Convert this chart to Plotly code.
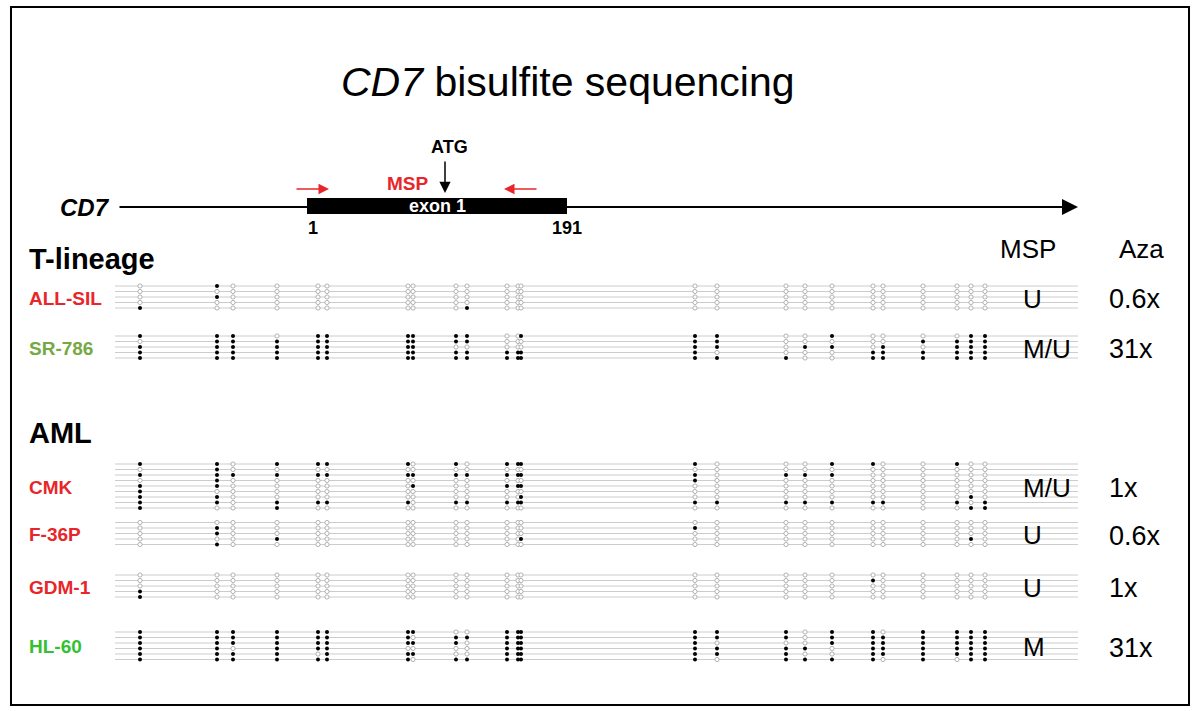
import plotly.graph_objects as go

# CpG sites along the amplicon (pixel-scaled position on the gene line)
cpg_pos = [140, 217, 233, 277, 318, 327, 408, 413, 456, 467, 507, 518, 521,
           695, 717, 786, 805, 832, 873, 883, 923, 957, 971, 985]

samples = ['ALL-SIL', 'SR-786', 'CMK', 'F-36P', 'GDM-1', 'HL-60']
sample_colors = ['#e8262a', '#76a844', '#e8262a', '#e8262a', '#e8262a', '#33c133']
msp_result = ['U', 'M/U', 'M/U', 'U', 'U', 'M']
aza_fold = ['0.6x', '31x', '1x', '0.6x', '1x', '31x']

# 1 = methylated (filled), 0 = unmethylated (open); one string per clone
clones = {
    'ALL-SIL': [
        '0100000000000' + '00000000000',
        '0000000000000' + '00000000000',
        '0100000000000' + '00000000000',
        '0000000000000' + '00000000000',
        '1000000001000' + '00000000000',
    ],
    'SR-786': [
        '1110111111001' + '11001000011',
        '0111111111000' + '11000001111',
        '1111111100000' + '11011010111',
        '1111111111111' + '10000111111',
        '1111111111111' + '11100111111',
    ],
    'CMK': [
        '1101111010111' + '10001100100',
        '0100000000000' + '00000000000',
        '1111111111111' + '10111000000',
        '0100000000000' + '10000000000',
        '1100000100111' + '00000000000',
        '1000000000000' + '00000000000',
        '1100000000001' + '00000000010',
        '1101111011111' + '11111110101',
        '1001000000000' + '00000000011',
    ],
    'F-36P': [
        '0000000000000' + '00000000000',
        '0100000000000' + '10000000000',
        '0100000000000' + '00000000000',
        '0001000000001' + '00000000010',
        '0100000000000' + '00000000000',
    ],
    'GDM-1': [
        '0000000000000' + '00000000000',
        '0000000000000' + '00000100000',
        '0000000000000' + '00000000000',
        '1000000000000' + '00000000000',
        '1000000000000' + '00000000000',
    ],
    'HL-60': [
        '1111111100111' + '11101101111',
        '1111111011111' + '11101111111',
        '1111111110111' + '10001111111',
        '1101110000111' + '11110111111',
        '1111011100111' + '11100111111',
        '1111111011111' + '10111101011',
    ],
}

# layout (pixel coordinates, y grows downward)
W, H = 1200, 711
group_top = {'ALL-SIL': 286, 'SR-786': 336, 'CMK': 464, 'F-36P': 522.5,
             'GDM-1': 575, 'HL-60': 632}
row_step = 5.5
line_x0, line_x1 = 115, 1078
FONT = 'Liberation Sans, Arial, sans-serif'

fig = go.Figure()
shapes = []
annotations = []

for i, name in enumerate(samples):
    rows = clones[name]
    top = group_top[name]
    fx, fy, ox, oy = [], [], [], []
    for r, pattern in enumerate(rows):
        y = top + r * row_step
        shapes.append(dict(type='line', x0=line_x0, x1=line_x1, y0=y, y1=y,
                           xref='x', yref='y', layer='below',
                           line=dict(color='#cccccc', width=1)))
        for j, ch in enumerate(pattern):
            if ch == '1':
                fx.append(cpg_pos[j]); fy.append(y)
            else:
                ox.append(cpg_pos[j]); oy.append(y)
    fig.add_trace(go.Scatter(x=ox, y=oy, mode='markers', hoverinfo='skip',
                             marker=dict(symbol='circle', size=4.2, color='white',
                                         line=dict(color='#a0a0a0', width=0.8))))
    fig.add_trace(go.Scatter(x=fx, y=fy, mode='markers', hoverinfo='skip',
                             marker=dict(symbol='circle', size=4, color='black',
                                         line=dict(color='black', width=0))))
    mid = top + (len(rows) - 1) * row_step / 2
    annotations.append(dict(x=27, y=mid + 1, text=f'<b>{name}</b>', xanchor='left',
                            showarrow=False, font=dict(family=FONT, size=19,
                                                       color=sample_colors[i])))
    annotations.append(dict(x=1021, y=mid + 1.5, text=msp_result[i], xanchor='left',
                            showarrow=False, font=dict(family=FONT, size=26, color='black')))
    annotations.append(dict(x=1107, y=mid + 2, text=aza_fold[i], xanchor='left',
                            showarrow=False, font=dict(family=FONT, size=27, color='black')))

# border
shapes.append(dict(type='rect', x0=11, x1=1189, y0=7, y1=705, xref='x', yref='y',
                   line=dict(color='black', width=2)))
# exon box
shapes.append(dict(type='rect', x0=307, x1=567, y0=198, y1=214, xref='x', yref='y',
                   fillcolor='black', line=dict(color='black', width=0)))

# gene line with arrow
annotations.append(dict(x=1078, y=207, ax=118, ay=207, xref='x', yref='y',
                        axref='x', ayref='y', text='', showarrow=True,
                        arrowhead=2, arrowsize=1.6, arrowwidth=2, arrowcolor='black'))
# ATG arrow
annotations.append(dict(x=445, y=193, ax=445, ay=160, xref='x', yref='y',
                        axref='x', ayref='y', text='', showarrow=True,
                        arrowhead=2, arrowsize=1.5, arrowwidth=1.5, arrowcolor='black'))
# MSP primers
annotations.append(dict(x=329, y=189, ax=295, ay=189, xref='x', yref='y',
                        axref='x', ayref='y', text='', showarrow=True,
                        arrowhead=2, arrowsize=1.4, arrowwidth=1.5, arrowcolor='#e8262a'))
annotations.append(dict(x=504, y=189, ax=538, ay=189, xref='x', yref='y',
                        axref='x', ayref='y', text='', showarrow=True,
                        arrowhead=2, arrowsize=1.4, arrowwidth=1.5, arrowcolor='#e8262a'))

texts = [
    (568, 82, '<i>CD7</i> bisulfite sequencing', 41, 'black', 'center'),
    (85, 207, '<b><i>CD7</i></b>', 24, 'black', 'center'),
    (449, 147, '<b>ATG</b>', 18, 'black', 'center'),
    (408, 183, '<b>MSP</b>', 19, '#e8262a', 'center'),
    (437, 206, '<b>exon 1</b>', 18, 'white', 'center'),
    (313, 228, '<b>1</b>', 18, 'black', 'center'),
    (567, 228, '<b>191</b>', 18, 'black', 'center'),
    (27, 259, '<b>T-lineage</b>', 29, 'black', 'left'),
    (27, 433, '<b>AML</b>', 29, 'black', 'left'),
    (1028, 249, 'MSP', 26, 'black', 'center'),
    (1141, 249, 'Aza', 26, 'black', 'center'),
]
for x, y, t, s, c, anc in texts:
    annotations.append(dict(x=x, y=y, text=t, xanchor=anc, showarrow=False,
                            font=dict(family=FONT, size=s, color=c)))

fig.update_layout(
    width=W, height=H,
    margin=dict(l=0, r=0, t=0, b=0),
    paper_bgcolor='white', plot_bgcolor='white',
    showlegend=False,
    xaxis=dict(range=[0, W], visible=False, fixedrange=True),
    yaxis=dict(range=[H, 0], visible=False, fixedrange=True),
    shapes=shapes,
    annotations=annotations,
)

fig.write_html('out.html', config={'displayModeBar': False},
               post_script="document.body.style.margin='0';document.body.style.overflow='hidden';")
